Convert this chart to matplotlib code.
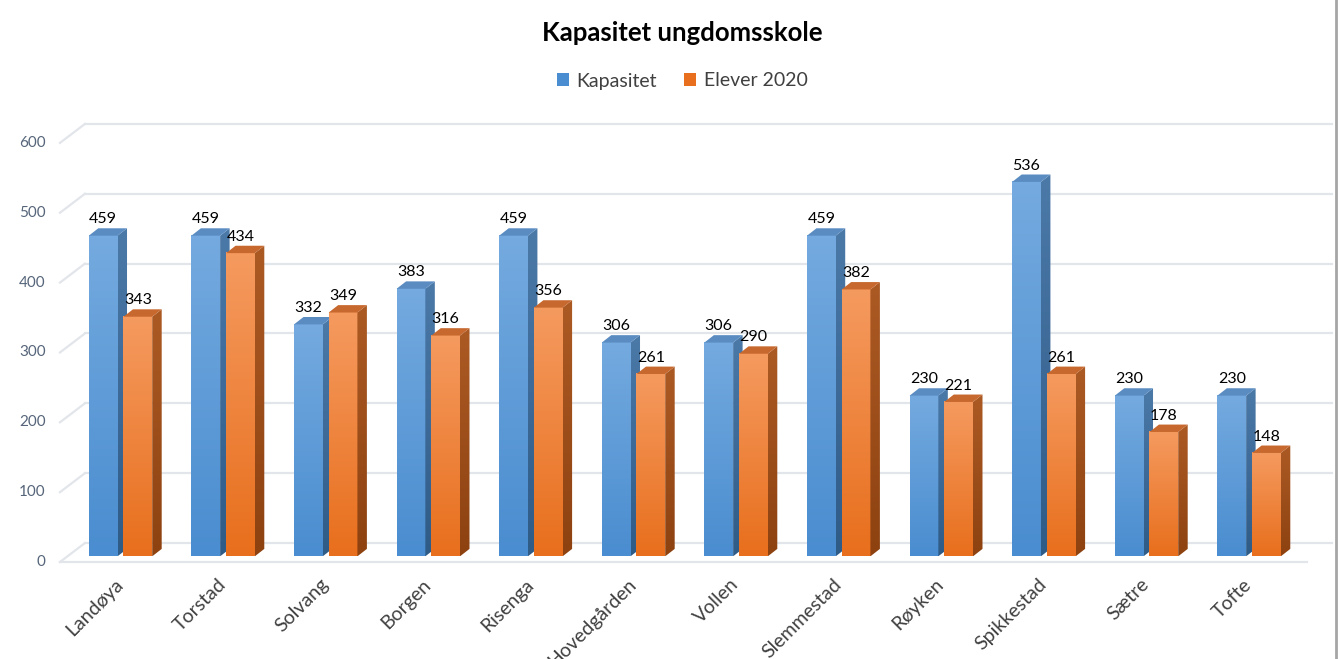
import numpy as np
import matplotlib
matplotlib.use("Agg")
import matplotlib.pyplot as plt
from matplotlib.patches import Polygon, Patch

plt.rcParams['font.family'] = ['Lato', 'DejaVu Sans']

# data
schools = ["Landøya", "Torstad", "Solvang", "Borgen", "Risenga", "Hovedgården",
           "Vollen", "Slemmestad", "Røyken", "Spikkestad", "Sætre", "Tofte"]
kapasitet = [459, 459, 332, 383, 459, 306, 306, 459, 230, 536, 230, 230]
elever = [343, 434, 349, 316, 356, 261, 290, 382, 221, 261, 178, 148]
y_ticks = [0, 100, 200, 300, 400, 500, 600]

# colours: front top, front bottom, side top, side bottom, top face
blue = ["#74aadf", "#4a8dd0", "#4b79a8", "#2f5b87", "#5a8cc2"]
orange = ["#f59a5f", "#e86f1d", "#ac5a24", "#8d4210", "#c7682e"]

fig = plt.figure(figsize=(13.38, 6.59), dpi=100)
ax = fig.add_axes([0, 0, 1, 1])
XLIM = (-120.5 / 102.6, (1338 - 120.5) / 102.6)
YLIM = (-147.0, 796.4)
ax.axis('off')

# 3d look (data units)
DX, DY = 0.2437, 27.2       # full floor depth
f0 = 0.3                    # bar front plane depth fraction
bdx, bdy = 0.0925, 10.6     # bar depth
w = 0.28                    # bar width
off = 0.169                 # bar centre offset from category centre
n = len(schools)
xl, xr = -0.59, n - 0.44    # floor front edge

grid_c = "#e2e5ea"
for v in y_ticks:
    yb = v + (1 - f0) * DY
    ax.plot([xl + DX, xr + DX], [yb, yb], color=grid_c, lw=1.6, zorder=1)
    ax.plot([xl, xl + DX], [v - f0 * DY, yb], color=grid_c, lw=1.6, zorder=1)
    ax.text(xl - 0.14, v - f0 * DY, str(v), ha='right', va='center',
            fontsize=11, color="#56657a")
ax.plot([xl, xr], [-f0 * DY, -f0 * DY], color=grid_c, lw=1.6, zorder=1)

grad = np.linspace(0, 1, 64).reshape(-1, 1)


def draw_bar(x0, v, col, z):
    cm_front = matplotlib.colors.LinearSegmentedColormap.from_list("f", [col[1], col[0]])
    cm_side = matplotlib.colors.LinearSegmentedColormap.from_list("s", [col[3], col[2]])
    ax.imshow(grad, cmap=cm_front, extent=[x0, x0 + w, 0, v], origin='lower',
              aspect='auto', zorder=z, interpolation='bilinear')
    side = Polygon([(x0 + w, 0), (x0 + w + bdx, bdy), (x0 + w + bdx, v + bdy), (x0 + w, v)],
                   closed=True, facecolor='none', edgecolor='none')
    ax.add_patch(side)
    im = ax.imshow(grad, cmap=cm_side, extent=[x0 + w, x0 + w + bdx, 0, v + bdy],
                   origin='lower', aspect='auto', zorder=z, interpolation='bilinear')
    im.set_clip_path(side)
    top = Polygon([(x0, v), (x0 + w, v), (x0 + w + bdx, v + bdy), (x0 + bdx, v + bdy)],
                  closed=True, facecolor=col[4], edgecolor='none', zorder=z)
    ax.add_patch(top)
    ax.text(x0 + w / 2, v + bdy + 7, str(v), ha='center', va='baseline',
            fontsize=11.5, color="black", zorder=z + 1)


for i in range(n):
    draw_bar(i - off - w / 2, kapasitet[i], blue, 2 + i * 0.01)
    draw_bar(i + off - w / 2, elever[i], orange, 3 + i * 0.01)

for i, s in enumerate(schools):
    ax.text(i - 0.06, -28, s, rotation=45, ha='right', va='top', rotation_mode='anchor',
            fontsize=14, color="#404040")

ax.set_xlim(*XLIM)
ax.set_ylim(*YLIM)

fig.text(0.51, 1 - 33 / 659, "Kapasitet ungdomsskole", ha='center', va='center',
         fontsize=18.5, fontweight='bold', color='black')
handles = [Patch(facecolor=blue[1], label="Kapasitet"),
           Patch(facecolor=orange[1], label="Elever 2020")]
fig.legend(handles=handles, loc='center', bbox_to_anchor=(0.51, 1 - 81 / 659), ncol=2,
           frameon=False, fontsize=14, handlelength=0.6, handleheight=0.6,
           handletextpad=0.4, columnspacing=1.4, labelcolor="#404040")

# chart border on right
fig.add_artist(plt.Line2D([1336 / 1338, 1336 / 1338], [0, 1], color="#a6a6a6", lw=2))

fig.savefig("out.png", dpi=100)
